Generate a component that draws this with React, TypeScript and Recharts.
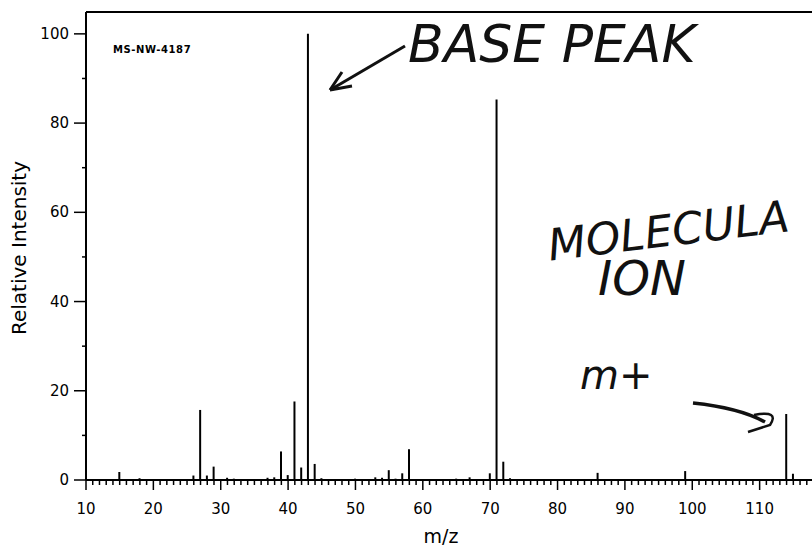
import React from 'react';
import { BarChart, Bar, XAxis, YAxis, ReferenceLine } from 'recharts';

// peak positions (m/z) and relative intensities
const mzValues = [15, 18, 26, 27, 28, 29, 31, 32, 37, 38, 39, 40, 41, 42, 43, 44, 45, 50, 53, 54, 55, 56, 57, 58, 65, 67, 70, 71, 72, 73, 86, 99, 114, 115];
const intensities = [1.8, 0.4, 1.0, 15.7, 1.0, 3.0, 0.5, 0.3, 0.5, 0.6, 6.4, 1.1, 17.6, 2.8, 100, 3.6, 0.4, 0.3, 0.6, 0.5, 2.2, 0.3, 1.5, 6.9, 0.3, 0.6, 1.5, 85.3, 4.1, 0.4, 1.6, 2.0, 14.8, 1.4];

const xTicks = Array.from({ length: 111 }, (_, i) => 10 + i);
const yTicks = [0, 10, 20, 30, 40, 50, 60, 70, 80, 90, 100];
const X_DOMAIN = [10, 120];
const Y_DOMAIN = [0, 104.9];

const data = mzValues.map((mz, i) => ({ mz, intensity: intensities[i] }));

const FONT = '"DejaVu Sans", sans-serif';

function XTick(props: any) {
  const { x, y, payload } = props;
  const v = payload.value;
  const major = v % 10 === 0;
  return (
    <g>
      <line x1={x} x2={x} y1={y} y2={y + (major ? 10 : 5)} stroke="#000" strokeWidth={1.5} />
      {major && v <= 110 && (
        <text x={x} y={y + 34} textAnchor="middle" fontSize={15} fontFamily={FONT} fill="#000">
          {v}
        </text>
      )}
    </g>
  );
}

function YTick(props: any) {
  const { x, y, payload } = props;
  const v = payload.value;
  const major = v % 20 === 0;
  return (
    <g>
      <line x1={x - (major ? 12 : 4)} x2={x} y1={y} y2={y} stroke="#000" strokeWidth={1.5} />
      {major && (
        <text x={x - 17} y={y + 5} textAnchor="end" fontSize={15} fontFamily={FONT} fill="#000">
          {v}
        </text>
      )}
    </g>
  );
}

export default function App() {
  return (
    <div style={{ position: 'absolute', left: 0, top: 0, width: 812, height: 550, overflow: 'hidden', background: '#fff', fontFamily: FONT }}>
      <BarChart width={830} height={550} data={data} margin={{ top: 12, right: 3, bottom: 0, left: 0 }}>
        <XAxis
          dataKey="mz"
          type="number"
          domain={X_DOMAIN}
          ticks={xTicks}
          interval={0}
          tickSize={0}
          tickMargin={0}
          tickLine={false}
          tick={<XTick />}
          height={70}
          axisLine={{ stroke: '#000', strokeWidth: 2 }}
          allowDataOverflow
        />
        <YAxis
          type="number"
          domain={Y_DOMAIN}
          ticks={yTicks}
          interval={0}
          tickSize={0}
          tickMargin={0}
          tickLine={false}
          tick={<YTick />}
          width={86}
          axisLine={{ stroke: '#000', strokeWidth: 2 }}
          allowDataOverflow
        />
        {/* frame top edge */}
        <ReferenceLine y={Y_DOMAIN[1]} stroke="#000" strokeWidth={2} ifOverflow="visible" />
        <Bar dataKey="intensity" fill="#000" barSize={2} isAnimationActive={false} />
      </BarChart>

      {/* axis titles and plate id */}
      <div style={{ position: 'absolute', left: 19, top: 248, transform: 'translate(-50%, -50%) rotate(-90deg)', fontSize: 20, whiteSpace: 'nowrap', color: '#000' }}>
        Relative Intensity
      </div>
      <div style={{ position: 'absolute', left: 441, top: 525, transform: 'translateX(-50%)', fontSize: 19, lineHeight: '22px', whiteSpace: 'nowrap', color: '#000' }}>
        m/z
      </div>
      <div style={{ position: 'absolute', left: 113, top: 44, fontSize: 10, letterSpacing: 0.6, fontWeight: 600, whiteSpace: 'nowrap', color: '#000' }}>
        MS-NW-4187
      </div>

      {/* handwritten notes */}
      <div style={{ position: 'absolute', left: 408, top: 14, fontSize: 52, fontStyle: 'italic', fontWeight: 300, whiteSpace: 'nowrap', color: '#111' }}>
        BASE PEAK
      </div>
      <div style={{ position: 'absolute', left: 545, top: 220, fontSize: 44, fontStyle: 'italic', fontWeight: 300, whiteSpace: 'nowrap', color: '#111', transform: 'rotate(-7deg)', transformOrigin: 'left top' }}>
        MOLECULA
      </div>
      <div style={{ position: 'absolute', left: 598, top: 250, fontSize: 48, fontStyle: 'italic', fontWeight: 300, whiteSpace: 'nowrap', color: '#111' }}>
        ION
      </div>
      <div style={{ position: 'absolute', left: 580, top: 352, fontSize: 40, fontStyle: 'italic', fontWeight: 300, whiteSpace: 'nowrap', color: '#111' }}>
        m+
      </div>
      <svg width={812} height={550} style={{ position: 'absolute', left: 0, top: 0, pointerEvents: 'none' }}>
        <path d="M405 46 L330 90" stroke="#111" strokeWidth={3} fill="none" />
        <path d="M330 90 L352 86 M330 90 L342 72" stroke="#111" strokeWidth={3} fill="none" />
        <path d="M693 403 Q740 408 765 422" stroke="#111" strokeWidth={3.5} fill="none" />
        <path d="M754 415 Q780 410 770 425 L748 432" stroke="#111" strokeWidth={2.5} fill="none" />
      </svg>
    </div>
  );
}
